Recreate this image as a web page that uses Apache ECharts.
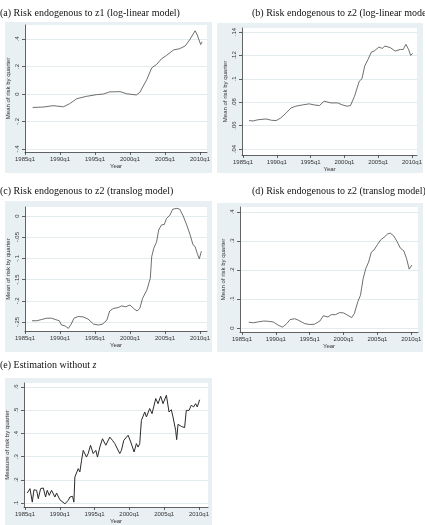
<!DOCTYPE html>
<html>
<head>
<meta charset="utf-8">
<script src="https://cdn.jsdelivr.net/npm/echarts@6/dist/echarts.min.js"></script>
<style>
  html, body { margin: 0; padding: 0; background: #fff; }
  #chart { width: 425px; height: 525px; }
</style>
</head>
<body>
<div id="chart"></div>
<script>
// ── data ─────────────────────────────────────────────────────────
const xTicks = [1985, 1990, 1995, 2000, 2005, 2010];

// (a) z1, log-linear
const yearsA = [1986.1, 1987.6, 1989.0, 1990.5, 1991.4, 1992.4, 1993.8, 1995.2, 1996.2, 1997.1, 1998.6, 1999.5,
  2000.9, 2001.4, 2002.4, 2003.1, 2003.8, 2004.5, 2005.2, 2006.2, 2007.1, 2007.9, 2008.6, 2009.3, 2009.6, 2010.1, 2010.3];
const riskA = [-0.098, -0.095, -0.085, -0.093, -0.07, -0.034, -0.017, -0.005, 0, 0.015, 0.017, 0.002,
  -0.007, 0.012, 0.105, 0.19, 0.215, 0.256, 0.28, 0.32, 0.33, 0.35, 0.40, 0.46, 0.43, 0.36, 0.38];
const yTicksA = [-0.4, -0.2, 0, 0.2, 0.4];

// (b) z2, log-linear
const yearsB = [1985.9, 1986.5, 1987.2, 1988.4, 1989.2, 1989.9, 1990.6, 1991.4, 1992.1, 1992.8, 1993.8, 1994.8,
  1995.5, 1996.3, 1997.0, 1998.0, 1999.0, 1999.7, 2000.4, 2000.9, 2001.5, 2002.2, 2002.6, 2003.0, 2003.5, 2004.0,
  2004.4, 2005.1, 2005.6, 2006.0, 2006.8, 2007.5, 2008.3, 2008.7, 2009.1, 2009.5, 2009.8, 2010.1];
const riskB = [0.0643, 0.064, 0.065, 0.0657, 0.0646, 0.0643, 0.0666, 0.0709, 0.0751, 0.0766, 0.0777, 0.0786,
  0.0777, 0.0771, 0.0809, 0.0794, 0.0794, 0.0777, 0.0766, 0.0771, 0.0851, 0.098, 0.1, 0.1109, 0.1166, 0.1229,
  0.1237, 0.1271, 0.126, 0.128, 0.1266, 0.1237, 0.1251, 0.125, 0.1294, 0.1251, 0.12, 0.1217];
const yTicksB = [0.04, 0.06, 0.08, 0.1, 0.12, 0.14];

// (c) z2, translog
const yearsC = [1986.0, 1986.7, 1987.4, 1988.1, 1988.8, 1989.3, 1989.9, 1990.2, 1990.7, 1991.2, 1991.6, 1992.0,
  1992.6, 1993.3, 1994.0, 1994.8, 1995.5, 1996.1, 1996.7, 1997.1, 1997.6, 1998.3, 1998.8, 1999.4, 2000.0, 2000.5,
  2001.0, 2001.4, 2001.8, 2002.4, 2002.9, 2003.1, 2003.4, 2003.8, 2004.1, 2004.5, 2004.9, 2005.2, 2005.7, 2006.1,
  2006.7, 2007.1, 2007.6, 2008.1, 2008.6, 2009.0, 2009.3, 2009.6, 2009.9, 2010.2];
const riskC = [-0.247, -0.247, -0.244, -0.241, -0.241, -0.244, -0.247, -0.257, -0.259, -0.265, -0.255, -0.241,
  -0.237, -0.238, -0.243, -0.255, -0.257, -0.255, -0.245, -0.224, -0.218, -0.216, -0.212, -0.214, -0.21, -0.218,
  -0.224, -0.218, -0.194, -0.175, -0.147, -0.096, -0.076, -0.061, -0.033, -0.021, -0.02, -0.006, 0.002, 0.016,
  0.018, 0.016, 0, -0.021, -0.045, -0.068, -0.072, -0.088, -0.101, -0.083];
const yTicksC = [-0.25, -0.2, -0.15, -0.1, -0.05, 0];

// (d) z2, translog
const yearsD = [1986.0, 1986.7, 1987.4, 1988.2, 1988.9, 1989.6, 1990.4, 1991.0, 1991.6, 1992.1, 1992.8, 1993.3,
  1993.8, 1994.3, 1995.0, 1995.7, 1996.5, 1997.0, 1997.7, 1998.2, 1998.8, 1999.4, 2000.0, 2000.6, 2001.2, 2001.6,
  2002.1, 2002.5, 2002.9, 2003.3, 2003.7, 2004.1, 2004.5, 2005.0, 2005.5, 2006.0, 2006.5, 2006.9, 2007.4, 2007.9,
  2008.4, 2008.9, 2009.3, 2009.7, 2010.1];
const riskD = [0.02, 0.018, 0.021, 0.024, 0.023, 0.021, 0.009, 0.003, 0.015, 0.029, 0.032, 0.027,
  0.021, 0.015, 0.012, 0.013, 0.024, 0.042, 0.038, 0.046, 0.046, 0.053, 0.052, 0.044, 0.036, 0.05,
  0.09, 0.113, 0.171, 0.206, 0.227, 0.261, 0.269, 0.287, 0.304, 0.313, 0.324, 0.327, 0.318, 0.298,
  0.275, 0.266, 0.24, 0.203, 0.217];
const yTicksD = [0, 0.1, 0.2, 0.3, 0.4];

// (e) without z
const yearsE = [1985.33, 1985.72, 1986.05, 1986.29, 1986.67, 1986.91, 1987.25, 1987.63, 1987.96, 1988.2, 1988.49,
  1988.82, 1989.06, 1989.3, 1989.54, 1990.02, 1990.26, 1990.74, 1991.21, 1991.45, 1991.69, 1991.84, 1992.03,
  1992.17, 1992.41, 1992.65, 1992.89, 1993.13, 1993.37, 1993.6, 1993.84, 1994.08, 1994.42, 1994.8, 1995.18,
  1995.42, 1995.76, 1996.14, 1996.33, 1996.62, 1997.19, 1997.57, 1997.91, 1998.15, 1998.62, 1998.86, 1999.2,
  1999.48, 1999.82, 2000.2, 2000.68, 2001.01, 2001.25, 2001.49, 2001.73, 2002.21, 2002.45, 2002.92, 2003.26,
  2003.79, 2004.12, 2004.5, 2004.84, 2005.32, 2005.7, 2006.03, 2006.27, 2006.65, 2006.8, 2006.99, 2007.47,
  2007.71, 2007.94, 2008.18, 2008.57, 2008.9, 2009.23, 2009.52, 2009.76, 2010.1];
const riskE = [0.143, 0.162, 0.104, 0.157, 0.155, 0.119, 0.162, 0.165, 0.126, 0.155, 0.133,
  0.155, 0.147, 0.126, 0.143, 0.114, 0.119, 0.097, 0.111, 0.126, 0.119, 0.129, 0.104,
  0.212, 0.219, 0.248, 0.234, 0.284, 0.327, 0.334, 0.298, 0.313, 0.349, 0.313, 0.327,
  0.298, 0.341, 0.377, 0.37, 0.349, 0.384, 0.37, 0.356, 0.359, 0.313, 0.327, 0.37,
  0.363, 0.392, 0.363, 0.32, 0.356, 0.341, 0.356, 0.456, 0.492, 0.471, 0.507, 0.485,
  0.55, 0.528, 0.56, 0.528, 0.564, 0.492, 0.502, 0.471, 0.413, 0.373, 0.439, 0.43,
  0.435, 0.425, 0.499, 0.499, 0.521, 0.514, 0.528, 0.514, 0.545];
const yTicksE = [0.1, 0.2, 0.3, 0.4, 0.5, 0.6];

// ── layout per panel (px) ─────────────────────────────────────────
const panels = [
  { title: '(a) Risk endogenous to z1 (log-linear model)', tx: 0, ty: 8, bg: [5, 22, 207, 151],
    grid: [25, 25, 182, 127], xr: [1985, 2011], yr: [-0.422, 0.502], yTicks: yTicksA,
    yName: 'Mean of risk by quarter', years: yearsA, vals: riskA },
  { title: '(b) Risk endogenous to z2 (log-linear model)', tx: 252, ty: 8, bg: [217, 23, 206, 150],
    grid: [242, 28, 176, 127], xr: [1984.85, 2010.74], yr: [0.0349, 0.1434], yTicks: yTicksB,
    yName: 'Mean of risk by quarter', years: yearsB, vals: riskB },
  { title: '(c) Risk endogenous to z2 (translog model)', tx: 0, ty: 186, bg: [5, 201, 207, 151],
    grid: [25, 207, 182, 124], xr: [1985, 2011], yr: [-0.2712, 0.0212], yTicks: yTicksC,
    yName: 'Mean of risk by quarter', years: yearsC, vals: riskC },
  { title: '(d) Risk endogenous to z2 (translog model)', tx: 252, ty: 186, bg: [217, 203, 206, 149],
    grid: [240, 207, 178, 125], xr: [1984.7, 2011], yr: [-0.0138, 0.417], yTicks: yTicksD,
    yName: 'Mean of risk by quarter', years: yearsD, vals: riskD },
  { title: '(e) Estimation without {i|z}', tx: 0, ty: 360, bg: [5, 378, 207, 147],
    grid: [24, 383, 184, 124], xr: [1984.86, 2011.3], yr: [0.083, 0.617], yTicks: yTicksE,
    yName: 'Measure of risk by quarter', years: yearsE, vals: riskE, dark: true },
];

// Stata-style number: .4, -.2, 0
const stataNum = v => String(+v.toFixed(4)).replace(/^(-?)0\./, '$1.');

const AXIS = '#3c3c3c';
const LABEL = { fontSize: 6, color: '#333', fontFamily: 'Liberation Sans' };

const chart = echarts.init(document.getElementById('chart'), null, { renderer: 'canvas' });

const option = {
  animation: false,
  backgroundColor: '#fff',
  title: panels.map(p => ({
    text: p.title,
    left: p.tx, top: p.ty, padding: 0,
    textStyle: {
      fontFamily: 'Liberation Serif', fontSize: 10, fontWeight: 'normal', color: '#111',
      rich: { i: { fontFamily: 'Liberation Serif', fontSize: 10, fontStyle: 'italic', color: '#111' } },
    },
  })),
  graphic: panels.map(p => ({
    type: 'rect', z: -10, silent: true,
    shape: { x: p.bg[0], y: p.bg[1], width: p.bg[2], height: p.bg[3] },
    style: { fill: '#e9f0f3' },
  })),
  grid: panels.map(p => ({
    left: p.grid[0], top: p.grid[1], width: p.grid[2], height: p.grid[3],
    show: true, backgroundColor: '#fff', borderWidth: 0,
  })),
  xAxis: panels.map((p, i) => ({
    type: 'value', gridIndex: i, min: p.xr[0], max: p.xr[1],
    name: 'Year', nameLocation: 'middle', nameGap: 11,
    nameTextStyle: LABEL,
    axisLine: { show: true, onZero: false, lineStyle: { color: AXIS, width: 0.8 } },
    axisTick: { show: true, length: 3, customValues: xTicks, lineStyle: { color: AXIS, width: 0.8 } },
    axisLabel: { ...LABEL, margin: 4, customValues: xTicks, formatter: v => v + 'q1' },
    splitLine: { show: false },
  })),
  yAxis: panels.map((p, i) => ({
    type: 'value', gridIndex: i, min: p.yr[0], max: p.yr[1],
    name: p.yName, nameLocation: 'middle', nameGap: 14, nameRotate: 90,
    nameTextStyle: LABEL,
    axisLine: { show: true, onZero: false, lineStyle: { color: AXIS, width: 0.8 } },
    axisTick: { show: true, length: 3, customValues: p.yTicks, lineStyle: { color: AXIS, width: 0.8 } },
    axisLabel: { ...LABEL, margin: 5, rotate: 90, customValues: p.yTicks, formatter: stataNum },
    splitLine: { show: false },
  })),
  series: panels.map((p, i) => ({
    type: 'line', xAxisIndex: i, yAxisIndex: i,
    data: p.years.map((y, k) => [y, p.vals[k]]),
    showSymbol: false, clip: false,
    lineStyle: { color: p.dark ? '#2b2b2b' : '#4a4a4a', width: p.dark ? 1 : 0.8 },
    // horizontal grid lines at the labelled ticks
    markLine: {
      silent: true, symbol: 'none', label: { show: false },
      lineStyle: { color: '#e3ebee', width: 1, type: 'solid' },
      data: p.yTicks.map(t => ({ yAxis: t })),
      z: 0,
    },
  })),
};

chart.setOption(option);
</script>
</body>
</html>
